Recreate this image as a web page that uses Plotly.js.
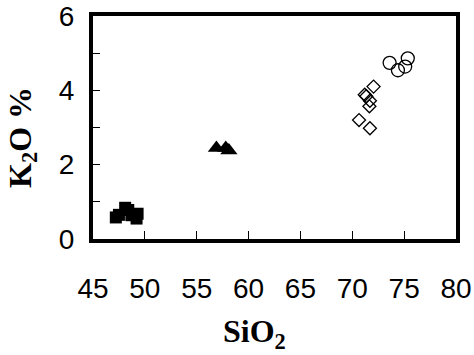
<!DOCTYPE html>
<html><head><meta charset="utf-8">
<script src="https://cdn.plot.ly/plotly-3.0.1.min.js"></script>
<style>html,body{margin:0;padding:0;background:#fff}#chart{width:474px;height:355px}</style>
</head><body><div id="chart"></div>
<script>
// Basalt (filled squares)
const sqSiO2 = [47.2, 47.5, 48.1, 48.4, 48.7, 49.2, 49.3];
const sqK2O  = [0.58, 0.65, 0.84, 0.78, 0.64, 0.55, 0.68];
// Andesite (filled triangles)
const trSiO2 = [56.9, 57.8, 58.1];
const trK2O  = [2.45, 2.45, 2.38];
// Open diamonds
const diSiO2 = [70.65, 71.7, 72.05, 71.2, 71.35, 71.7, 71.65];
const diK2O  = [3.2, 2.98, 4.1, 3.88, 3.84, 3.72, 3.57];
// Open circles
const ciSiO2 = [73.6, 74.4, 75.1, 75.35];
const ciK2O  = [4.74, 4.54, 4.64, 4.86];

const xTicks = [45, 50, 55, 60, 65, 70, 75, 80];
const yTicks = [0, 2, 4, 6];

const traces = [
  {x: sqSiO2, y: sqK2O, mode: 'markers', type: 'scatter',
   marker: {symbol: 'square', size: 12, color: '#000', line: {width: 0}}},
  {x: trSiO2, y: trK2O, mode: 'markers', type: 'scatter',
   marker: {symbol: 'triangle-up', size: 15, color: '#000', line: {width: 0}}},
  {x: diSiO2, y: diK2O, mode: 'markers', type: 'scatter',
   marker: {symbol: 'diamond-open', size: 10, color: '#000', line: {width: 1.3, color: '#000'}}},
  {x: ciSiO2, y: ciK2O, mode: 'markers', type: 'scatter',
   marker: {symbol: 'circle-open', size: 13, color: '#000', line: {width: 1.3, color: '#000'}}}
];

const tickFont = {family: '"Liberation Sans Narrow", "Liberation Sans", Arial, sans-serif', size: 28, color: '#000'};
const titleFont = {family: '"Liberation Serif", "Times New Roman", serif', size: 32, color: '#000'};

const layout = {
  width: 474, height: 355,
  margin: {l: 93, r: 18, t: 16, b: 116, pad: 0},
  paper_bgcolor: '#fff', plot_bgcolor: '#fff',
  showlegend: false,
  xaxis: {
    range: [45, 80], tickmode: 'array', tickvals: xTicks, ticktext: xTicks.map(String),
    ticks: 'inside', ticklen: 8, tickwidth: 1, tickcolor: '#000',
    showline: true, linewidth: 4, linecolor: '#000', mirror: true,
    showgrid: false, zeroline: false, tickfont: tickFont, ticklabelstandoff: 21
  },
  yaxis: {
    range: [0, 6], tickmode: 'array', tickvals: yTicks, ticktext: yTicks.map(String),
    ticks: 'inside', ticklen: 7, tickwidth: 1, tickcolor: '#000',
    minor: {dtick: 1, ticks: 'inside', ticklen: 7, tickwidth: 1, tickcolor: '#000', showgrid: false},
    showline: true, linewidth: 4, linecolor: '#000', mirror: true,
    showgrid: false, zeroline: false, tickfont: tickFont, ticklabelstandoff: 9
  },
  annotations: [
    {text: '<b>SiO<sub>2</sub></b>', xref: 'paper', yref: 'paper', x: 0.446, y: -0.425,
     xanchor: 'center', yanchor: 'middle', showarrow: false, font: titleFont},
    {text: '<b>K<sub>2</sub>O %</b>', xref: 'paper', yref: 'paper', x: -0.196, y: 0.457,
     xanchor: 'center', yanchor: 'middle', textangle: -90, showarrow: false, font: titleFont}
  ]
};

Plotly.newPlot('chart', traces, layout, {displayModeBar: false, staticPlot: true});
</script>
</body></html>
